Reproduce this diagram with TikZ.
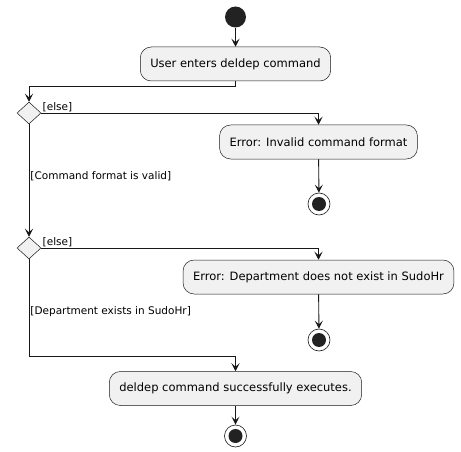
\documentclass[tikz,border=0pt]{standalone}
\usepackage{fontspec}
\setmainfont{DejaVu Sans}
\usetikzlibrary{shapes.geometric,arrows.meta}
\definecolor{actfill}{HTML}{F1F1F1}
\definecolor{umlline}{HTML}{181818}
\definecolor{dotfill}{HTML}{222222}
\begin{document}
\begin{tikzpicture}[x=1pt,y=-1pt,
    action/.style={rectangle, rounded corners=11pt, draw=umlline, line width=0.5pt, fill=actfill,
        minimum height=34pt, inner xsep=10pt, font=\fontsize{11.5}{13}\selectfont},
    choice/.style={diamond, draw=umlline, line width=0.5pt, fill=actfill, inner sep=0pt,
        minimum width=24pt, minimum height=22pt},
    startdot/.style={circle, fill=dotfill, inner sep=0pt, minimum size=21pt},
    enddot/.style={circle, draw=umlline, line width=0.6pt, fill=white, inner sep=0pt, minimum size=22pt,
        path picture={\fill[dotfill] (path picture bounding box.center) circle (7pt);}},
    flow/.style={draw=umlline, line width=0.9pt, -{Stealth[length=8pt,width=8pt,inset=3.5pt]}},
    guard/.style={font=\fontsize{10.5}{12}\selectfont, inner sep=1pt}]
        \useasboundingbox (0,0) rectangle (461,452);

        \node[startdot] (start) at (235.5, 17) {};
        \node[action] (enter) at (235.5, 64) {User enters deldep command};
        \node[choice] (fmt) at (29, 113) {};
        \node[action] (badfmt) at (318.5, 142) {Error: Invalid command format};
        \node[enddot] (stop1) at (319, 204) {};
        \node[choice] (dep) at (29, 248) {};
        \node[action] (nodep) at (318.5, 277) {Error: Department does not exist in SudoHr};
        \node[enddot] (stop2) at (319, 340) {};
        \node[action] (done) at (235.5, 388.5) {deldep command successfully executes.};
        \node[enddot] (stop3) at (235.5, 436) {};

        \draw[flow] (start) -- (enter);
        \draw[flow] (enter.south) -- ++(0,5) -| (fmt.north);
        \draw[flow] (fmt.east) -| node[guard, pos=0, anchor=south west] {[else]} (badfmt.north);
        \draw[flow] (badfmt) -- (stop1);
        \draw[flow] (fmt.south) -- node[guard, pos=0.46, anchor=west] {[Command format is valid]} (dep.north);
        \draw[flow] (dep.east) -| node[guard, pos=0, anchor=south west] {[else]} (nodep.north);
        \draw[flow] (nodep) -- (stop2);
        \draw[flow] (dep.south) -- ++(0,97) node[guard, pos=0.54, anchor=west] {[Department exists in SudoHr]} -| (done.north);
        \draw[flow] (done) -- (stop3);

    \end{tikzpicture}
\end{document}
